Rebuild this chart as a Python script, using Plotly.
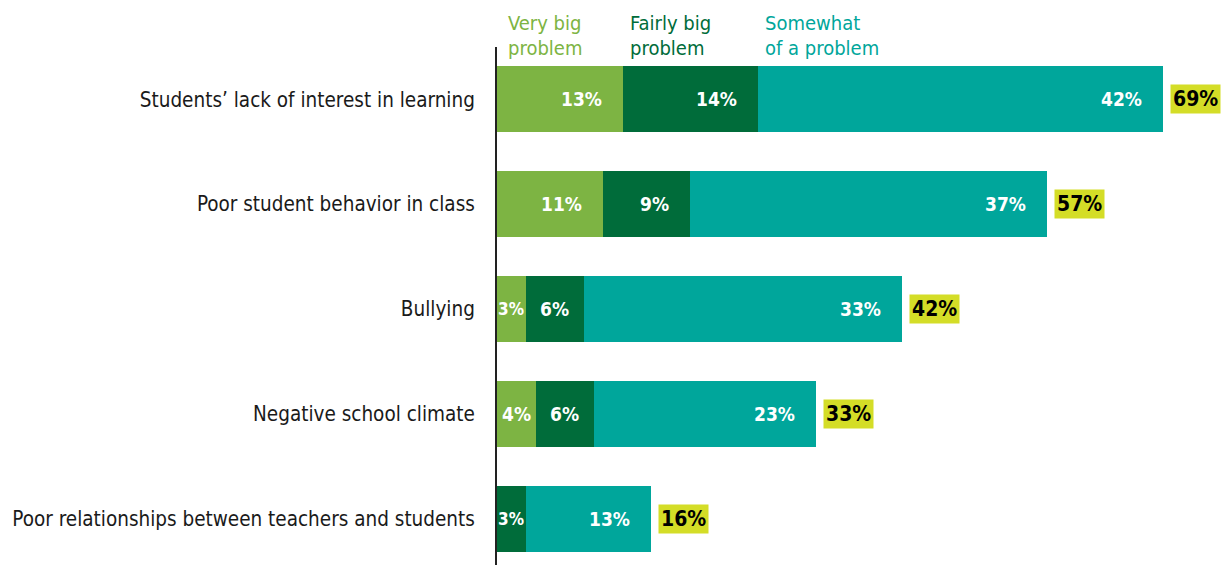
import plotly.graph_objects as go

categories = [
    "Students\u2019 lack of interest in learning",
    "Poor student behavior in class",
    "Bullying",
    "Negative school climate",
    "Poor relationships between teachers and students",
]
very_big = [13, 11, 3, 4, 0]
fairly_big = [14, 9, 6, 6, 3]
somewhat = [42, 37, 33, 23, 13]
totals = [69, 57, 42, 33, 16]
series_names = ["Very big problem", "Fairly big problem", "Somewhat of a problem"]
header_lines = [["Very big", "problem"], ["Fairly big", "problem"], ["Somewhat", "of a problem"]]

colors = ["#7db443", "#006c3a", "#00a69b"]
yellow = "#d4dd27"
FONT = "DejaVu Sans Condensed, Liberation Sans Narrow, sans-serif"

series = [very_big, fairly_big, somewhat]

fig = go.Figure()
for name, vals, col in zip(series_names, series, colors):
    fig.add_trace(go.Bar(
        y=categories, x=vals, name=name, orientation="h",
        marker=dict(color=col, line=dict(width=0)), width=0.63,
        hoverinfo="x+y",
    ))

annotations = []
for i, cat in enumerate(categories):
    cum = 0
    for vals in series:
        v = vals[i]
        start = cum
        cum += v
        if v <= 0:
            continue
        if v >= 8:
            annotations.append(dict(x=cum, y=cat, xref="x", yref="y", text=f"{v}%",
                                    showarrow=False, xanchor="right", xshift=-19,
                                    font=dict(family=FONT, size=19, color="white", weight="bold")))
        else:
            annotations.append(dict(x=(start + cum) / 2, y=cat, xref="x", yref="y", text=f"{v}%",
                                    showarrow=False, xanchor="center",
                                    font=dict(family=FONT, size=17 if v < 4 else 19, color="white", weight="bold")))
    annotations.append(dict(x=totals[i], y=cat, xref="x", yref="y", text=f"{totals[i]}%",
                            showarrow=False, xanchor="left", xshift=7, bgcolor=yellow, borderpad=2,
                            font=dict(family=FONT, size=21, color="black", weight="bold")))

starts = [0, very_big[0], very_big[0] + fairly_big[0]]
for j, (lines, col) in enumerate(zip(header_lines, colors)):
    for k, line in enumerate(lines):
        annotations.append(dict(x=starts[j], y=1, xref="x", yref="paper", text=line,
                                showarrow=False, xanchor="left", yanchor="middle",
                                xshift=9 if j == 0 else 5, yshift=24 if k == 0 else -1,
                                font=dict(family=FONT, size=20, color=col)))

fig.update_layout(
    barmode="stack",
    width=1222, height=565,
    margin=dict(l=497, r=0, t=47, b=0, autoexpand=False),
    plot_bgcolor="white", paper_bgcolor="white",
    showlegend=False,
    annotations=annotations,
    xaxis=dict(range=[0, 75.1], visible=False, showgrid=False, zeroline=False, automargin=False),
    yaxis=dict(range=[4.44, -0.5], showgrid=False, zeroline=False, automargin=False,
               showline=True, linecolor="#222222", linewidth=2,
               ticks="", ticklabelstandoff=16,
               tickfont=dict(family=FONT, size=20.5, color="#1a1a1a")),
)

fig.write_html("out.html",
               config={"displayModeBar": False},
               post_script="document.body.style.margin='0';document.body.style.overflow='hidden';")
